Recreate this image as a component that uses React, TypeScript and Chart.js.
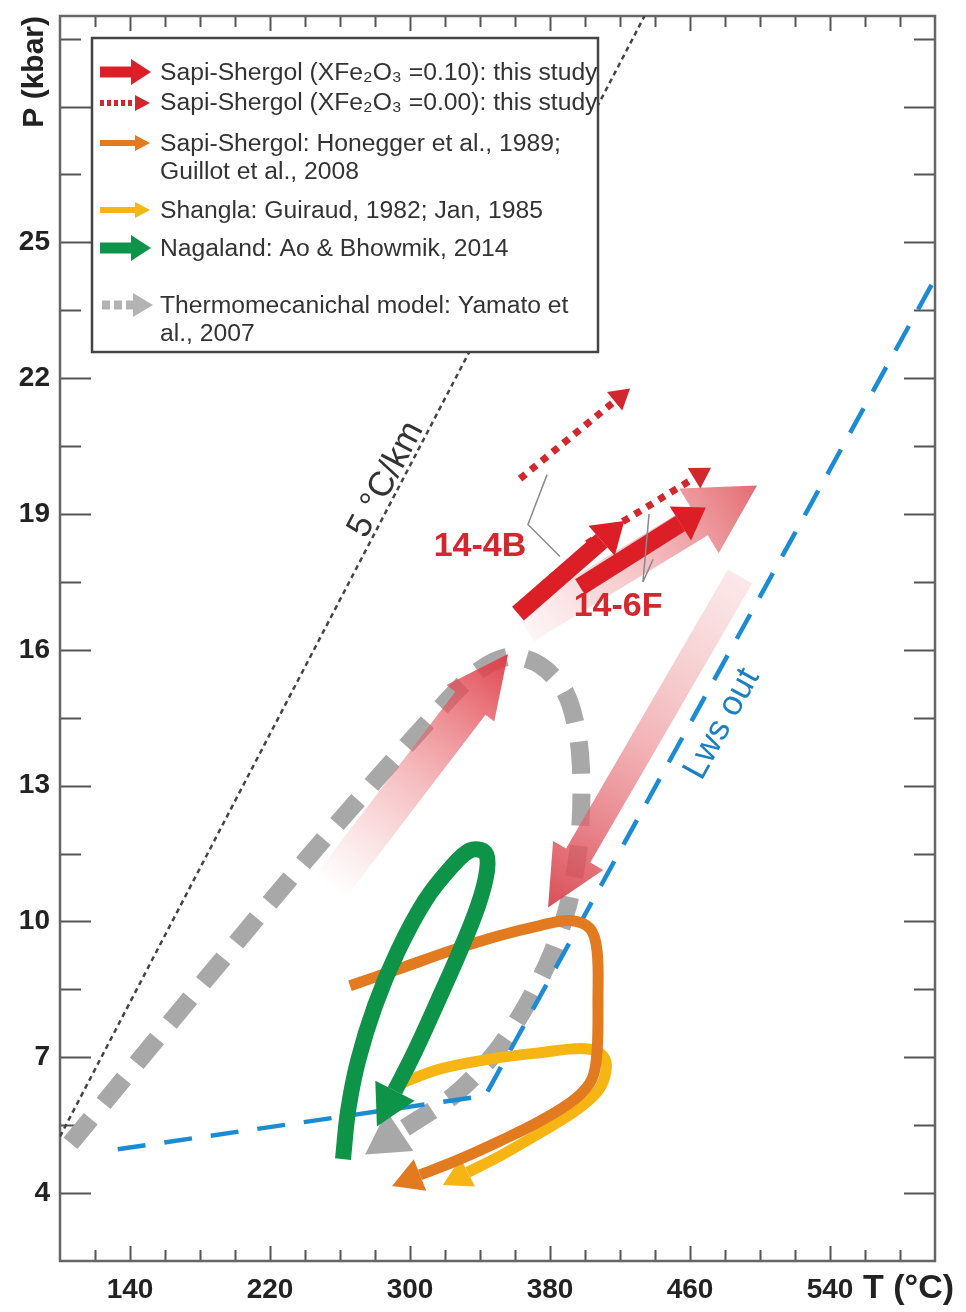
import React, { useEffect, useRef } from "react";
import { Chart, registerables } from "chart.js";

Chart.register(...registerables);

const FONT = '"Liberation Sans", Arial, Helvetica, sans-serif';

// ---- axes ----
const X_MIN = 100;
const X_MAX = 600;
const Y_MIN = 2.5;
const Y_MAX = 30;
const X_TICKS = [120, 140, 160, 180, 200, 220, 240, 260, 280, 300, 320, 340, 360, 380, 400, 420, 440, 460, 480, 500, 520, 540, 560, 580];
const X_LABELS = [140, 220, 300, 380, 460, 540];
const Y_TICKS = [4, 5.5, 7, 8.5, 10, 11.5, 13, 14.5, 16, 17.5, 19, 20.5, 22, 23.5, 25, 26.5, 28, 29.5];
const Y_MAJOR = [4, 7, 10, 13, 16, 19, 22, 25, 28];
const Y_LABELS = [4, 7, 10, 13, 16, 19, 22, 25];

// ---- series (T in °C, P in kbar) ----
const GEOTHERM_T = [100, 434];
const GEOTHERM_P = [5.25, 30];

const LWS_T = [133, 343, 600];
const LWS_P = [4.97, 6.15, 24.2];

const YAMATO_T = [106, 237, 320.6, 340, 357, 374, 388.6, 396, 398, 396, 390, 380, 365.7, 348.6, 325.7, 294.3];
const YAMATO_P = [5.1, 11.2, 14.85, 15.56, 15.85, 15.67, 15.07, 14.08, 12.86, 11.53, 10.31, 9.2, 8.1, 7.1, 6.18, 5.37];

const HONEGGER_T = [265.7, 294.3, 322.9, 351.4, 374.3, 391.4, 402.9, 406.9, 407.4, 406.9, 404, 394.3, 374.3, 351.4, 328.6, 305.7];
const HONEGGER_P = [8.58, 8.96, 9.35, 9.69, 9.91, 10.02, 9.84, 9.35, 8.25, 7.14, 6.52, 6.08, 5.59, 5.15, 4.75, 4.4];

const SHANGLA_T = [291.4, 317.1, 345.7, 374.3, 400, 410.3, 412, 407.4, 394.3, 374.3, 351.4, 333];
const SHANGLA_P = [6.37, 6.74, 6.96, 7.1, 7.19, 7.03, 6.7, 6.26, 5.81, 5.33, 4.82, 4.46];

const NAGALAND_T = [261.7, 264.6, 270.3, 280, 293.1, 308.6, 322.9, 334.3, 342.9, 344, 338.9, 328.6, 316, 302.9, 291.4];
const NAGALAND_P = [4.75, 5.81, 6.92, 8.14, 9.35, 10.46, 11.17, 11.57, 11.52, 11.12, 10.35, 9.35, 8.25, 7.14, 6.26];

const SOLID_4B_T = [361.7, 409.5];
const SOLID_4B_P = [16.8, 18.41];
const SOLID_6F_T = [397.1, 454.5];
const SOLID_6F_P = [17.39, 18.79];
const DOTTED_4B_T = [362.9, 416.9];
const DOTTED_4B_P = [19.78, 21.49];
const DOTTED_6F_T = [401.1, 462.3];
const DOTTED_6F_P = [18.35, 19.79];

const PALE_UP_T = [254.3, 356];
const PALE_UP_P = [10.76, 15.91];
const PALE_PEAK_T = [365.7, 498.3];
const PALE_PEAK_P = [16.51, 19.63];
const PALE_DOWN_T = [488.6, 378.9];
const PALE_DOWN_P = [17.62, 10.31];

const LEADER_4B_T = [385.7, 367.4, 378.3];
const LEADER_4B_P = [18.06, 18.77, 19.87];
const LEADER_6F_A_T = [433.1, 438.9];
const LEADER_6F_A_P = [17.5, 18.0];
const LEADER_6F_B_T = [433.1, 436.6];
const LEADER_6F_B_P = [17.5, 19.0];

// label anchors (data units)
const LABEL_4B = { T: 340, P: 18.28 };
const LABEL_6F = { T: 418.9, P: 16.95 };
const LABEL_GEOTHERM = { T: 286.3, P: 19.76 };
const LABEL_LWS = { T: 478.3, P: 14.36 };

// ---- colours ----
const RED = "#dc1f26";
const RED_DOT = "#d3272e";
const ORANGE = "#e27a1f";
const YELLOW = "#f6b512";
const GREEN = "#0d9448";
const GRAY = "#a8a8a8";
const BLUE = "#1b8bd3";
const GEO = "#444444";

const pts = (T: number[], P: number[]) => T.map((t, i) => ({ x: t, y: P[i] }));

type Head = { len: number; width: number; color: string };
const HEADS: Record<string, Head> = {
  yamato: { len: 42, width: 48, color: GRAY },
  honegger: { len: 30, width: 34, color: ORANGE },
  shangla: { len: 28, width: 32, color: YELLOW },
  nagaland: { len: 40, width: 44, color: GREEN },
  solid4b: { len: 30, width: 40, color: RED },
  solid6f: { len: 30, width: 40, color: RED },
  dot4b: { len: 20, width: 24, color: RED_DOT },
  dot6f: { len: 20, width: 24, color: RED_DOT },
};

function drawHead(ctx: CanvasRenderingContext2D, bx: number, by: number, ux: number, uy: number, h: Head) {
  const nx = -uy, ny = ux;
  ctx.save();
  ctx.beginPath();
  ctx.moveTo(bx + ux * h.len, by + uy * h.len);
  ctx.lineTo(bx + (nx * h.width) / 2, by + (ny * h.width) / 2);
  ctx.lineTo(bx - (nx * h.width) / 2, by - (ny * h.width) / 2);
  ctx.closePath();
  ctx.fillStyle = h.color;
  ctx.fill();
  ctx.restore();
}

function drawBigArrow(
  ctx: CanvasRenderingContext2D,
  x0: number, y0: number, x1: number, y1: number,
  shaftW: number, headW: number, headLen: number,
  stops: [number, string][]
) {
  const dx = x1 - x0, dy = y1 - y0, L = Math.hypot(dx, dy);
  const ux = dx / L, uy = dy / L, nx = -uy, ny = ux;
  const bx = x1 - ux * headLen, by = y1 - uy * headLen;
  const g = ctx.createLinearGradient(x0, y0, x1, y1);
  stops.forEach(([o, c]) => g.addColorStop(o, c));
  ctx.save();
  ctx.beginPath();
  ctx.moveTo(x0 + (nx * shaftW) / 2, y0 + (ny * shaftW) / 2);
  ctx.lineTo(bx + (nx * shaftW) / 2, by + (ny * shaftW) / 2);
  ctx.lineTo(bx + (nx * headW) / 2, by + (ny * headW) / 2);
  ctx.lineTo(x1, y1);
  ctx.lineTo(bx - (nx * headW) / 2, by - (ny * headW) / 2);
  ctx.lineTo(bx - (nx * shaftW) / 2, by - (ny * shaftW) / 2);
  ctx.lineTo(x0 - (nx * shaftW) / 2, y0 - (ny * shaftW) / 2);
  ctx.closePath();
  ctx.fillStyle = g;
  ctx.fill();
  ctx.restore();
}

function rotatedText(ctx: CanvasRenderingContext2D, text: string, x: number, y: number, angle: number, font: string, color: string) {
  ctx.save();
  ctx.translate(x, y);
  ctx.rotate(angle);
  ctx.font = font;
  ctx.fillStyle = color;
  ctx.textAlign = "center";
  ctx.textBaseline = "middle";
  ctx.fillText(text, 0, 0);
  ctx.restore();
}

function legendArrow(
  ctx: CanvasRenderingContext2D, x0: number, x1: number, y: number,
  shaftW: number, headLen: number, headW: number, color: string, dash: number[]
) {
  ctx.save();
  ctx.strokeStyle = color;
  ctx.lineWidth = shaftW;
  ctx.lineCap = "butt";
  ctx.setLineDash(dash);
  ctx.beginPath();
  ctx.moveTo(x0, y);
  ctx.lineTo(x1 - headLen, y);
  ctx.stroke();
  ctx.setLineDash([]);
  ctx.beginPath();
  ctx.moveTo(x1, y);
  ctx.lineTo(x1 - headLen, y - headW / 2);
  ctx.lineTo(x1 - headLen, y + headW / 2);
  ctx.closePath();
  ctx.fillStyle = color;
  ctx.fill();
  ctx.restore();
}

const figurePlugin = {
  id: "figurePlugin",
  beforeDatasetsDraw(chart: any) {
    const { ctx, chartArea, scales } = chart;
    const { left, right, top, bottom } = chartArea;
    ctx.save();
    ctx.strokeStyle = "#555";
    ctx.lineWidth = 2;
    Y_TICKS.forEach((v) => {
      const py = Math.round(scales.y.getPixelForValue(v)) + 0.5;
      const len = Y_MAJOR.includes(v) ? 31 : 21;
      ctx.beginPath();
      ctx.moveTo(left, py);
      ctx.lineTo(left + len, py);
      ctx.moveTo(right, py);
      ctx.lineTo(right - len, py);
      ctx.stroke();
    });
    X_TICKS.forEach((v) => {
      const px = Math.round(scales.x.getPixelForValue(v)) + 0.5;
      const len = X_LABELS.includes(v) ? 15 : 11;
      ctx.beginPath();
      ctx.moveTo(px, bottom);
      ctx.lineTo(px, bottom - len);
      ctx.moveTo(px, top);
      ctx.lineTo(px, top + len);
      ctx.stroke();
    });
    ctx.strokeStyle = "#666";
    ctx.lineWidth = 2.5;
    ctx.strokeRect(left, top, right - left, bottom - top);
    ctx.restore();
  },
  afterDatasetDraw(chart: any, args: any) {
    const { ctx, scales } = chart;
    const ds = chart.data.datasets[args.index];
    const head = HEADS[ds.label];
    if (head) {
      const p = args.meta.data;
      const a = p[p.length - 2], b = p[p.length - 1];
      const dx = b.x - a.x, dy = b.y - a.y, L = Math.hypot(dx, dy);
      drawHead(ctx, b.x, b.y, dx / L, dy / L, head);
    }
    if (ds.label === "yamato") {
      const X = (t: number) => scales.x.getPixelForValue(t);
      const Y = (p: number) => scales.y.getPixelForValue(p);
      ctx.save();
      ctx.beginPath();
      ctx.rect(chart.chartArea.left, chart.chartArea.top, chart.chartArea.right - chart.chartArea.left, chart.chartArea.bottom - chart.chartArea.top);
      ctx.clip();
      drawBigArrow(ctx, X(PALE_UP_T[0]), Y(PALE_UP_P[0]), X(PALE_UP_T[1]), Y(PALE_UP_P[1]), 38, 60, 62, [
        [0, "rgba(236,130,135,0)"],
        [0.45, "rgba(234,115,120,0.45)"],
        [1, "rgba(222,58,68,0.95)"],
      ]);
      drawBigArrow(ctx, X(PALE_PEAK_T[0]), Y(PALE_PEAK_P[0]), X(PALE_PEAK_T[1]), Y(PALE_PEAK_P[1]), 34, 76, 68, [
        [0, "rgba(240,160,165,0.1)"],
        [0.5, "rgba(236,140,145,0.55)"],
        [1, "rgba(226,100,106,0.95)"],
      ]);
      drawBigArrow(ctx, X(PALE_DOWN_T[0]), Y(PALE_DOWN_P[0]), X(PALE_DOWN_T[1]), Y(PALE_DOWN_P[1]), 28, 58, 60, [
        [0, "rgba(244,190,192,0.35)"],
        [0.5, "rgba(236,140,145,0.65)"],
        [1, "rgba(216,62,72,0.92)"],
      ]);
      ctx.restore();
    }
  },
  afterDatasetsDraw(chart: any) {
    const { ctx, scales } = chart;
    const X = (t: number) => scales.x.getPixelForValue(t);
    const Y = (p: number) => scales.y.getPixelForValue(p);
    const gAng = Math.atan2(Y(GEOTHERM_P[1]) - Y(GEOTHERM_P[0]), X(GEOTHERM_T[1]) - X(GEOTHERM_T[0]));
    rotatedText(ctx, "5 °C/km", X(LABEL_GEOTHERM.T), Y(LABEL_GEOTHERM.P), gAng, `35px ${FONT}`, "#333");
    const lAng = Math.atan2(Y(LWS_P[2]) - Y(LWS_P[1]), X(LWS_T[2]) - X(LWS_T[1]));
    rotatedText(ctx, "Lws out", X(LABEL_LWS.T), Y(LABEL_LWS.P), lAng, `35px ${FONT}`, "#1b7fc4");
    rotatedText(ctx, "14-4B", X(LABEL_4B.T), Y(LABEL_4B.P), 0, `bold 34px ${FONT}`, "#d5262e");
    rotatedText(ctx, "14-6F", X(LABEL_6F.T), Y(LABEL_6F.P), 0, `bold 34px ${FONT}`, "#d5262e");
  },
  afterDraw(chart: any) {
    const { ctx, chartArea } = chart;
    ctx.save();
    ctx.font = `bold 34px ${FONT}`;
    ctx.fillStyle = "#222";
    ctx.textAlign = "left";
    ctx.textBaseline = "middle";
    ctx.fillText("T (°C)", 863, chartArea.bottom + 28);

    const bx = 92, by = 38, bw = 506, bh = 314;
    ctx.fillStyle = "#fff";
    ctx.fillRect(bx, by, bw, bh);
    ctx.strokeStyle = "#444";
    ctx.lineWidth = 2.5;
    ctx.strokeRect(bx, by, bw, bh);

    legendArrow(ctx, 100, 151, 72, 11, 20, 26, RED, []);
    legendArrow(ctx, 100, 150, 103, 6, 15, 16, RED_DOT, [4, 3]);
    legendArrow(ctx, 100, 150, 143, 6, 15, 16, ORANGE, []);
    legendArrow(ctx, 100, 150, 210, 6, 15, 16, YELLOW, []);
    legendArrow(ctx, 100, 151, 248, 11, 20, 26, GREEN, []);
    legendArrow(ctx, 102, 153, 305, 9, 20, 24, "#b3b3b3", [8, 4]);

    ctx.font = `24.7px ${FONT}`;
    ctx.fillStyle = "#333";
    ctx.textAlign = "left";
    ctx.textBaseline = "middle";
    const tx = 160;
    ctx.fillText("Sapi-Shergol (XFe\u2082O\u2083 =0.10): this study", tx, 73);
    ctx.fillText("Sapi-Shergol (XFe\u2082O\u2083 =0.00): this study", tx, 103);
    ctx.fillText("Sapi-Shergol: Honegger et al., 1989;", tx, 144);
    ctx.fillText("Guillot et al., 2008", tx, 172);
    ctx.fillText("Shangla: Guiraud, 1982; Jan, 1985", tx, 211);
    ctx.fillText("Nagaland: Ao & Bhowmik, 2014", tx, 249);
    ctx.fillText("Thermomecanichal model: Yamato et", tx, 306);
    ctx.fillText("al., 2007", tx, 334);
    ctx.restore();
  },
};

function line(label: string, T: number[], P: number[], color: string, width: number, order: number, extra: any = {}) {
  return {
    label,
    data: pts(T, P),
    showLine: true,
    borderColor: color,
    backgroundColor: color,
    borderWidth: width,
    pointRadius: 0,
    pointHoverRadius: 0,
    fill: false,
    tension: 0.35,
    borderCapStyle: "butt",
    borderJoinStyle: "round",
    order,
    ...extra,
  };
}

const zeroPad = (s: any) => {
  s.paddingTop = 0;
  s.paddingBottom = 0;
  s.paddingLeft = 0;
  s.paddingRight = 0;
};

export default function App() {
  const ref = useRef<HTMLCanvasElement>(null);
  useEffect(() => {
    const canvas = ref.current;
    if (!canvas) return;
    const chart = new Chart(canvas, {
      type: "scatter",
      data: {
        datasets: [
          line("leader4b", LEADER_4B_T, LEADER_4B_P, "#8a8a8a", 1.5, 0, { tension: 0 }),
          line("leader6fa", LEADER_6F_A_T, LEADER_6F_A_P, "#8a8a8a", 1.5, 0, { tension: 0 }),
          line("leader6fb", LEADER_6F_B_T, LEADER_6F_B_P, "#8a8a8a", 1.5, 0, { tension: 0 }),
          line("solid6f", SOLID_6F_T, SOLID_6F_P, RED, 18, 1, { tension: 0 }),
          line("solid4b", SOLID_4B_T, SOLID_4B_P, RED, 18, 1, { tension: 0 }),
          line("dot4b", DOTTED_4B_T, DOTTED_4B_P, RED_DOT, 7, 2, { tension: 0, borderDash: [7, 7] }),
          line("dot6f", DOTTED_6F_T, DOTTED_6F_P, RED_DOT, 7, 2, { tension: 0, borderDash: [7, 7] }),
          line("nagaland", NAGALAND_T, NAGALAND_P, GREEN, 16, 3),
          line("honegger", HONEGGER_T, HONEGGER_P, ORANGE, 11, 4),
          line("shangla", SHANGLA_T, SHANGLA_P, YELLOW, 11, 5),
          line("lws", LWS_T, LWS_P, BLUE, 4.5, 6, { tension: 0, borderDash: [28, 19] }),
          line("yamato", YAMATO_T, YAMATO_P, GRAY, 18, 8, { borderDash: [32, 20], tension: 0.3 }),
          line("geotherm", GEOTHERM_T, GEOTHERM_P, GEO, 2.5, 9, { tension: 0, borderDash: [5, 4] }),
        ] as any,
      },
      options: {
        responsive: false,
        maintainAspectRatio: false,
        animation: false,
        layout: { padding: { left: 0, top: 16, right: 31, bottom: 0 } },
        plugins: {
          legend: { display: false },
          tooltip: { enabled: false },
        },
        scales: {
          x: {
            type: "linear",
            min: X_MIN,
            max: X_MAX,
            afterBuildTicks: (s: any) => {
              s.ticks = X_TICKS.map((v) => ({ value: v }));
            },
            afterFit: (s: any) => {
              s.height = 51;
              zeroPad(s);
            },
            grid: { display: false, drawTicks: false },
            border: { display: false },
            ticks: {
              autoSkip: false,
              maxRotation: 0,
              padding: 12,
              color: "#222",
              font: { family: FONT, size: 28, weight: "bold" },
              callback: (v: any) => (X_LABELS.includes(Number(v)) ? String(v) : null),
            },
          },
          y: {
            type: "linear",
            min: Y_MIN,
            max: Y_MAX,
            afterBuildTicks: (s: any) => {
              s.ticks = Y_TICKS.map((v) => ({ value: v }));
            },
            afterFit: (s: any) => {
              s.width = 60;
              zeroPad(s);
            },
            grid: { display: false, drawTicks: false },
            border: { display: false },
            title: {
              display: true,
              text: "P (kbar)",
              align: "end",
              color: "#222",
              font: { family: FONT, size: 30, weight: "bold" },
              padding: { top: 17, bottom: 0 },
            },
            ticks: {
              autoSkip: false,
              padding: 10,
              color: "#222",
              font: { family: FONT, size: 28, weight: "bold" },
              callback: (v: any) => (Y_LABELS.includes(Number(v)) ? String(v) : null),
            },
          },
        },
      } as any,
      plugins: [figurePlugin],
    });
    return () => chart.destroy();
  }, []);

  return (
    <div style={{ position: "absolute", left: 0, top: 0, width: 966, height: 1312, background: "#fff" }}>
      <canvas ref={ref} width={966} height={1312} style={{ display: "block", width: 966, height: 1312 }} />
    </div>
  );
}
